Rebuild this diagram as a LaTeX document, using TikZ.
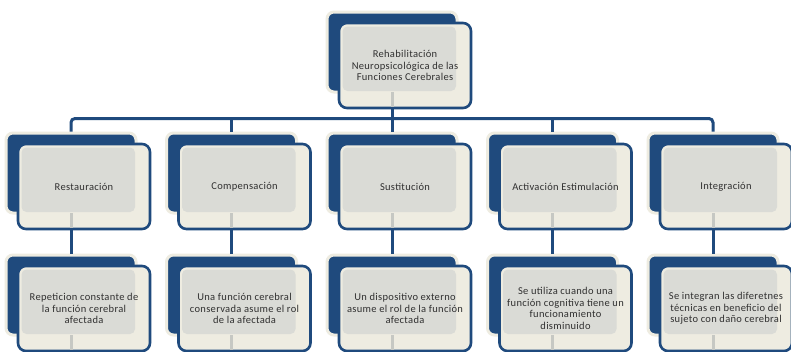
\documentclass[tikz,border=0pt]{standalone}
\usepackage{fontspec}
\setmainfont{Carlito}[LetterSpace=3]
\usetikzlibrary{calc}
\definecolor{dblue}{HTML}{1F4A7D}
\definecolor{cream}{HTML}{EEECE1}
\definecolor{gbox}{HTML}{DADBD6}
\definecolor{stubc}{HTML}{C6C8C3}
\definecolor{txt}{HTML}{303030}
\newcommand\unitbox[4]{%
  \node[backbox] (#1b) at (#2,#3) {};
  \node[frontbox] (#1f) at ($(#2,#3)+(13,13.5)$) {};
  \fill[graypart] ($(#1f.north west)+(3.5,3.5)$) rectangle ($(#1b.south east)+(-1,-1)$);
  \draw[stub] (#1b.south) -- ($(#1b.south |- #1f.south)+(0,-1.3)$);
  \node[boxtext] (#1t) at (#1f.center) {#4};
}
\begin{document}
\begin{tikzpicture}[x=1pt,y=-1pt,
  backbox/.style={rectangle, fill=dblue, draw=cream, line width=3pt, rounded corners=7pt,
    minimum width=130pt, minimum height=80pt, inner sep=0pt, outer sep=0pt},
  frontbox/.style={rectangle, fill=cream, draw=dblue, line width=2.6pt, rounded corners=8pt,
    minimum width=132pt, minimum height=85pt, inner sep=0pt, outer sep=0pt},
  boxtext/.style={align=center, font=\fontsize{10.5}{11.7}\selectfont, text=txt, inner sep=0pt},
  conn/.style={draw=dblue, line width=3pt},
  stub/.style={draw=stubc, line width=3pt},
  graypart/.style={fill=gbox, rounded corners=5pt}]
\useasboundingbox (0,0) rectangle (791,351);
\fill[white] (0,0) rectangle (791,351);

\unitbox{top}{392}{52}{Rehabilitación\\Neuropsicológica de las\\Funciones Cerebrales}

\unitbox{la}{71}{173}{Restauración}
\unitbox{lb}{231.5}{173}{Compensación}
\unitbox{lc}{392}{173}{Sustitución}
\unitbox{ld}{552.5}{173}{Activación Estimulación}
\unitbox{le}{713}{173}{Integración}

\unitbox{ma}{71}{295}{Repeticion constante de\\la función cerebral\\afectada}
\unitbox{mb}{231.5}{295}{Una función cerebral\\conservada asume el rol\\de la afectada}
\unitbox{mc}{392}{295}{Un dispositivo externo\\asume el rol de la función\\afectada}
\unitbox{md}{552.5}{295}{Se utiliza cuando una\\función cognitiva tiene un\\funcionamiento\\disminuido}
\unitbox{me}{713}{295}{Se integran las diferetnes\\técnicas en beneficio del\\sujeto con daño cerebral}

\coordinate (bus) at (0,118.5);
\draw[conn] (topb.south |- topf.south) -- (topb.south |- bus);
\draw[conn, rounded corners=4pt, shorten <=1.5pt, shorten >=1.5pt] (lab.north) |- (bus -| leb.north) -- (leb.north);
\foreach \n in {lb,lc,ld}{
  \draw[conn, shorten <=1.5pt] (\n b.north) -- (\n b.north |- bus);
}
\foreach \a/\b in {la/ma,lb/mb,lc/mc,ld/md,le/me}{
  \draw[conn, shorten >=1.5pt] (\a b.south |- \a f.south) -- (\b b.north);
}
\end{tikzpicture}
\end{document}
